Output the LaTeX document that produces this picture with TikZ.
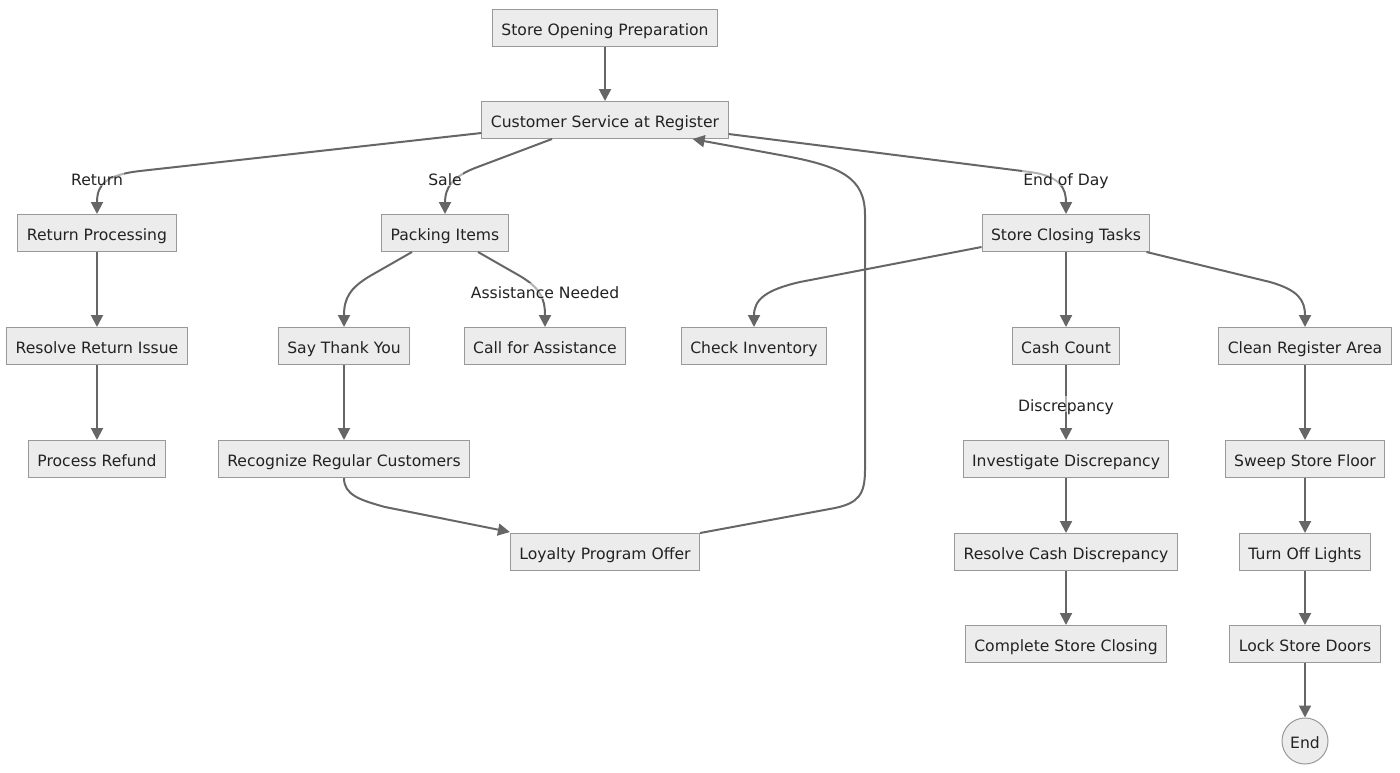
\documentclass[tikz,border=0pt]{standalone}
\usepackage{fontspec}
\setmainfont{DejaVu Sans}
\usetikzlibrary{arrows.meta}
\definecolor{nodefill}{HTML}{ECECEC}
\definecolor{nodeborder}{HTML}{999999}
\definecolor{edgecol}{HTML}{666666}
\definecolor{txt}{HTML}{222222}
\newcommand{\dfont}{\fontsize{15.6}{18}\selectfont}
\begin{document}
\begin{tikzpicture}[x=1pt,y=-1pt,
 box/.style={draw=nodeborder, fill=nodefill, line width=1pt, text=txt, font=\dfont,
   inner xsep=9pt, inner ysep=0pt, minimum height=37pt, text height=14pt, text depth=0pt},
 endnode/.style={circle, draw=nodeborder, fill=nodefill, line width=1pt, text=txt, font=\dfont,
   minimum size=46pt, inner sep=0pt, text height=14pt, text depth=0pt},
 edge/.style={draw=edgecol, line width=2pt, -{Triangle[length=12pt,width=12pt]}},
 lbl/.style={font=\dfont, text=txt, fill=white, fill opacity=0.5, text opacity=1, inner sep=1pt,
   text height=14pt, text depth=0pt}]
\useasboundingbox (0,0) rectangle (1400,772);

\node[box] (sop) at (605,28) {Store Opening Preparation};
\node[box] (csr) at (605,120) {Customer Service at Register};
\node[box] (ret) at (97,233) {Return Processing};
\node[box] (pack) at (445,233) {Packing Items};
\node[box] (sct) at (1066,233) {Store Closing Tasks};
\node[box] (rri) at (97,346) {Resolve Return Issue};
\node[box] (sty) at (344,346) {Say Thank You};
\node[box] (cfa) at (545,346) {Call for Assistance};
\node[box] (ci) at (754,346) {Check Inventory};
\node[box] (cc) at (1066,346) {Cash Count};
\node[box] (cra) at (1305,346) {Clean Register Area};
\node[box] (pr) at (97,459) {Process Refund};
\node[box] (rrc) at (344,459) {Recognize Regular Customers};
\node[box] (id) at (1066,459) {Investigate Discrepancy};
\node[box] (ssf) at (1305,459) {Sweep Store Floor};
\node[box] (loy) at (605,552) {Loyalty Program Offer};
\node[box] (rcd) at (1066,552) {Resolve Cash Discrepancy};
\node[box] (tol) at (1305,552) {Turn Off Lights};
\node[box] (csc) at (1066,644) {Complete Store Closing};
\node[box] (lsd) at (1305,644) {Lock Store Doors};
\node[endnode] (end) at (1305,741) {End};

% straight edges
\draw[edge] (sop) -- (csr);
\draw[edge] (ret) -- (rri);
\draw[edge] (rri) -- (pr);
\draw[edge] (sty) -- (rrc);
\draw[edge] (sct) -- (cc);
\draw[edge] (cc) -- (id);
\draw[edge] (id) -- (rcd);
\draw[edge] (rcd) -- (csc);
\draw[edge] (cra) -- (ssf);
\draw[edge] (ssf) -- (tol);
\draw[edge] (tol) -- (lsd);
\draw[edge] (lsd) -- (end);

% curved edges
\draw[edge] ([yshift=-13pt]csr.west) -- (140,171) .. controls (105,175) and (97,185) .. (ret.north);
\draw[edge] ([xshift=-53pt]csr.south) -- (475,168) .. controls (452,177) and (445,188) .. (pack.north);
\draw[edge] ([yshift=-14pt]csr.east) -- (1030,172) .. controls (1060,176) and (1066,188) .. (sct.north);
\draw[edge] ([xshift=-33pt]pack.south) -- (370,276) .. controls (350,288) and (344,298) .. (sty.north);
\draw[edge] ([xshift=33pt]pack.south) -- (520,276) .. controls (540,288) and (545,298) .. (cfa.north);
\draw[edge] ([yshift=-14pt]sct.west) -- (800,282) .. controls (765,290) and (754,300) .. (ci.north);
\draw[edge] ([xshift=-4pt]sct.south east) -- (1270,282) .. controls (1298,290) and (1305,300) .. (cra.north);
\draw[edge] (rrc.south) .. controls (344,495) and (360,500) .. (385,507) -- ([yshift=1pt]loy.north west);
\draw[edge] (loy.north east) -- (835,508) .. controls (858,503) and (865,495) .. (865,470) -- (865,215)
  .. controls (865,178) and (842,166) .. (780,155) -- ([xshift=-36pt]csr.south east);

% labels
\node[lbl] (l1) at (97,178) {Return};
\node[lbl] (l2) at (445,178) {Sale};
\node[lbl] (l3) at (1066,178) {End of Day};
\node[lbl] (l4) at (545,291) {Assistance Needed};
\node[lbl] (l5) at (1066,404) {Discrepancy};
\end{tikzpicture}
\end{document}
